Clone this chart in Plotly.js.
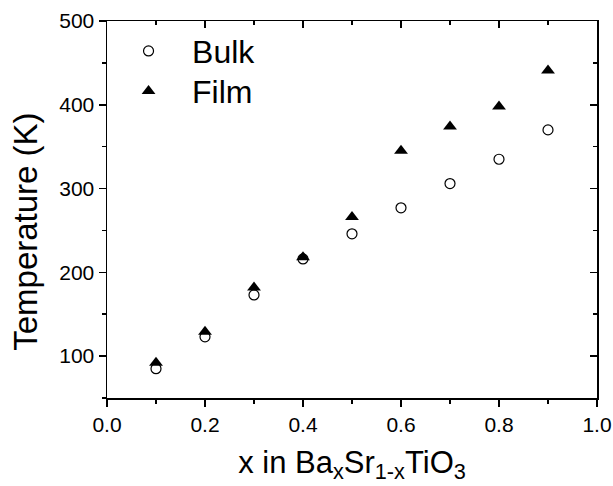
<!DOCTYPE html>
<html>
<head>
<meta charset="utf-8">
<script src="https://cdn.plot.ly/plotly-3.0.1.min.js"></script>
<style>html,body{margin:0;padding:0;background:#fff;}#chart{width:613px;height:486px;}</style>
</head>
<body>
<div id="chart"></div>
<script>
var xValues = [0.1, 0.2, 0.3, 0.4, 0.5, 0.6, 0.7, 0.8, 0.9];
var bulkT = [85, 123, 173, 216, 246, 277, 306, 335, 370];
var filmT = [92, 129, 182, 218, 266, 345, 374, 398, 441];
var seriesNames = ['Bulk', 'Film'];
var xTitle = 'x in Ba<sub>x</sub>Sr<sub>1-x</sub>TiO<sub>3</sub>';
var yTitle = 'Temperature (K)';

var FONT = 'Liberation Sans';

var traces = [
  {
    x: xValues, y: bulkT, name: seriesNames[0], type: 'scatter', mode: 'markers', legend: 'legend',
    marker: {symbol: 'circle-open', size: 10, color: '#000', line: {width: 1.2, color: '#000'}}
  },
  {
    x: xValues, y: filmT, name: seriesNames[1], type: 'scatter', mode: 'markers', legend: 'legend2',
    marker: {symbol: 'triangle-up', size: 12, color: '#000', line: {width: 0}}
  },
  {
    x: [xValues[0]], y: [bulkT[0]], xaxis: 'x2', yaxis: 'y2', type: 'scatter', mode: 'markers',
    marker: {opacity: 0}, showlegend: false, hoverinfo: 'skip'
  }
];

var legendBase = {
  xanchor: 'left', yanchor: 'top', x: -0.004,
  font: {family: FONT, size: 32, color: '#000'},
  bgcolor: 'rgba(0,0,0,0)', itemwidth: 77
};

var layout = {
  width: 613, height: 486,
  margin: {l: 107, r: 16, t: 21, b: 88},
  paper_bgcolor: '#fff', plot_bgcolor: '#fff',
  font: {family: FONT, color: '#000', size: 21},
  showlegend: true,
  legend: Object.assign({}, legendBase, {y: 0.993}),
  legend2: Object.assign({}, legendBase, {y: 0.887}),
  xaxis: {
    range: [0, 1], dtick: 0.2, tick0: 0, tickformat: '.1f',
    showgrid: false, zeroline: false,
    showline: true, linecolor: '#000', linewidth: 1.5, mirror: true,
    ticks: 'outside', ticklen: 7, tickwidth: 1.5, tickcolor: '#000',
    minor: {dtick: 0.1, ticklen: 4, tickwidth: 1.5, tickcolor: '#000', ticks: 'outside'},
    tickfont: {family: FONT, size: 21},
    title: {text: xTitle, font: {family: FONT, size: 31}, standoff: 16}
  },
  yaxis: {
    range: [50, 500], dtick: 100, tick0: 0,
    showgrid: false, zeroline: false,
    showline: true, linecolor: '#000', linewidth: 1.5, mirror: true,
    ticks: 'outside', ticklen: 7, tickwidth: 1.5, tickcolor: '#000',
    minor: {dtick: 50, ticklen: 4, tickwidth: 1.5, tickcolor: '#000', ticks: 'outside'},
    tickfont: {family: FONT, size: 21},
    title: {text: ''}
  },
  xaxis2: {
    overlaying: 'x', side: 'top', anchor: 'y2', range: [0, 1], dtick: 0.2, tick0: 0,
    showgrid: false, zeroline: false, showline: false, showticklabels: false,
    ticks: 'inside', ticklen: 7, tickwidth: 1.5, tickcolor: '#000',
    minor: {dtick: 0.1, ticklen: 4, tickwidth: 1.5, tickcolor: '#000', ticks: 'inside'}
  },
  yaxis2: {
    overlaying: 'y', side: 'right', anchor: 'x2', range: [50, 500], dtick: 100, tick0: 0,
    showgrid: false, zeroline: false, showline: false, showticklabels: false,
    ticks: 'inside', ticklen: 7, tickwidth: 1.5, tickcolor: '#000',
    minor: {dtick: 50, ticklen: 4, tickwidth: 1.5, tickcolor: '#000', ticks: 'inside'}
  },
  annotations: [
    {
      text: yTitle, textangle: -90, showarrow: false,
      xref: 'paper', yref: 'paper', x: -0.168, y: 0.44,
      xanchor: 'center', yanchor: 'middle',
      font: {family: FONT, size: 33, color: '#000'}
    }
  ]
};

Plotly.newPlot('chart', traces, layout, {displayModeBar: false, staticPlot: true});
</script>
</body>
</html>
